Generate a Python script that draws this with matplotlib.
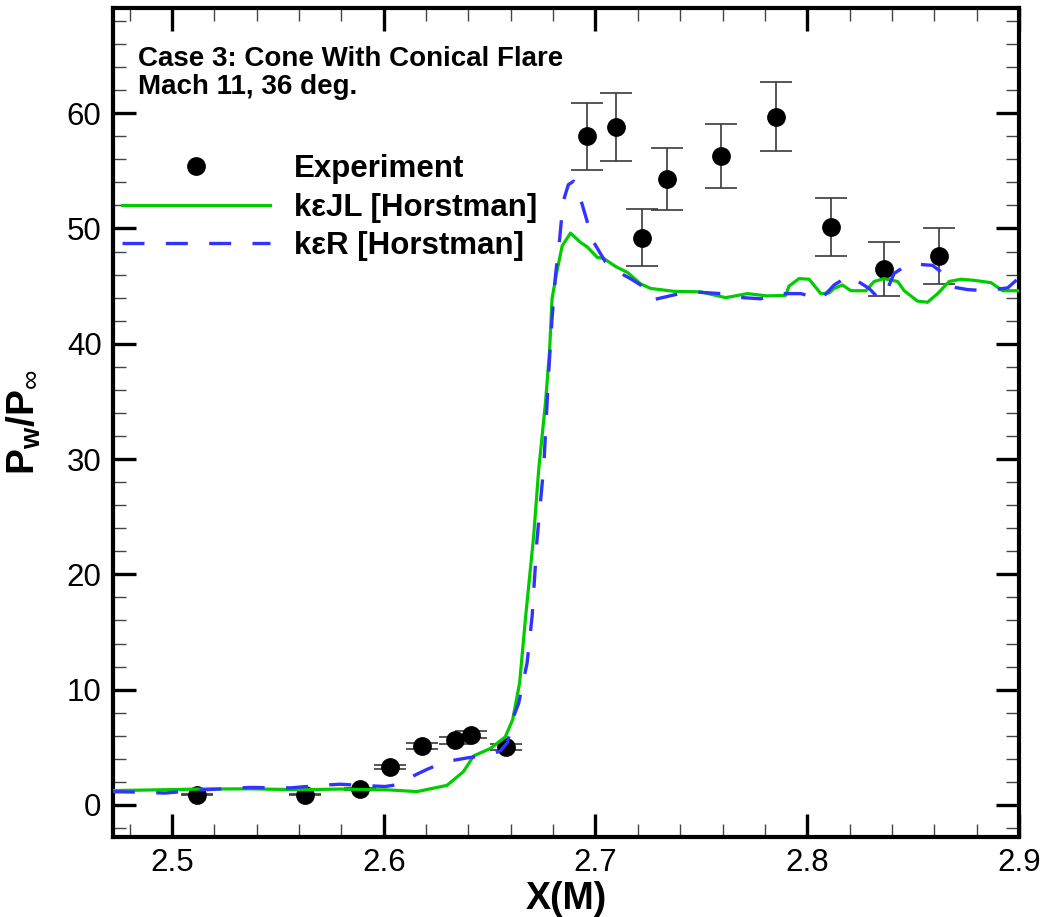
import matplotlib
matplotlib.use("Agg")
import matplotlib.pyplot as plt
from matplotlib.ticker import MultipleLocator

plt.rcParams['font.family'] = ['Liberation Sans', 'DejaVu Sans']
plt.rcParams['mathtext.fontset'] = 'custom'
plt.rcParams['mathtext.rm'] = 'Liberation Sans'
plt.rcParams['mathtext.bf'] = 'Liberation Sans:bold'

# Experimental wall pressure (with 5% uncertainty bars)
exp_x = [2.5117, 2.5626, 2.5889, 2.6031, 2.6181, 2.6339, 2.6412, 2.6578,
         2.6961, 2.7099, 2.7219, 2.7340, 2.7592, 2.7852, 2.8110, 2.8362, 2.8622]
exp_p = [0.87, 0.87, 1.4, 3.3, 5.1, 5.6, 6.1, 5.0,
         58.0, 58.8, 49.2, 54.3, 56.3, 59.7, 50.1, 46.5, 47.6]
exp_err = [0.04, 0.04, 0.07, 0.17, 0.26, 0.28, 0.30, 0.25,
           2.9, 2.95, 2.45, 2.7, 2.8, 3.0, 2.5, 2.35, 2.4]

# k-epsilon JL model
kejl_x = [2.4721, 2.4896, 2.5132, 2.5369, 2.5605, 2.5794, 2.6031, 2.6157,
          2.6299, 2.6377, 2.6425, 2.6504, 2.6574, 2.6609, 2.6642, 2.6669,
          2.6708, 2.6732, 2.6764, 2.6783, 2.6795, 2.6816, 2.6843, 2.6882,
          2.6929, 2.6961, 2.7008, 2.7039, 2.7095, 2.7150, 2.7213, 2.7260,
          2.7370, 2.7496, 2.7615, 2.7717, 2.7812, 2.7898, 2.7914, 2.7961,
          2.8009, 2.8064, 2.8103, 2.8127, 2.8166, 2.8206, 2.8277, 2.8316,
          2.8363, 2.8427, 2.8458, 2.8521, 2.8568, 2.8616, 2.8670, 2.8726,
          2.8789, 2.8868, 2.8923, 2.9005]
kejl_p = [1.25, 1.3, 1.38, 1.4, 1.32, 1.38, 1.3, 1.16,
          1.7, 2.9, 4.26, 4.9, 5.9, 7.4, 10.6, 16.1,
          23.3, 29.1, 34.9, 39.3, 43.9, 46.1, 48.5, 49.6,
          48.8, 48.4, 47.5, 47.4, 46.7, 46.2, 45.2, 44.8,
          44.55, 44.5, 44.0, 44.35, 44.15, 44.2, 45.0, 45.65,
          45.6, 44.35, 44.4, 44.8, 45.1, 44.6, 44.6, 45.4,
          45.65, 45.4, 44.6, 43.7, 43.6, 44.35, 45.4, 45.6,
          45.5, 45.3, 44.6, 44.6]

# k-epsilon R model
ker_x = [2.4721, 2.4825, 2.4967, 2.5132, 2.5369, 2.5558, 2.5700, 2.5794,
         2.5889, 2.6007, 2.6078, 2.6149, 2.6206, 2.6291, 2.6400, 2.6504,
         2.6551, 2.6584, 2.6614, 2.6637, 2.6677, 2.6701, 2.6724, 2.6756,
         2.6779, 2.6795, 2.6811, 2.6831, 2.6847, 2.6872, 2.6897, 2.6929,
         2.6961, 2.6992, 2.7047, 2.7110, 2.7165, 2.7213, 2.7268, 2.7386,
         2.7465, 2.7591, 2.7654, 2.7780, 2.7859, 2.7970, 2.8064, 2.8127,
         2.8198, 2.8292, 2.8332, 2.8362, 2.8410, 2.8481, 2.8592, 2.8655,
         2.8694, 2.8757, 2.8844, 2.8947, 2.9005]
ker_p = [1.15, 1.12, 1.03, 1.3, 1.52, 1.48, 1.7, 1.8,
         1.7, 1.6, 1.8, 2.6, 3.1, 3.75, 4.1, 4.35,
         4.7, 5.4, 7.7, 8.8, 12.3, 16.4, 23.0, 29.4,
         37.5, 42.2, 45.9, 49.1, 52.3, 53.8, 54.1, 52.6,
         50.6, 48.8, 47.1, 46.2, 45.65, 45.1, 43.8, 44.3,
         44.5, 44.35, 44.05, 43.9, 44.35, 44.35, 43.85, 45.1,
         45.9, 44.8, 44.05, 44.0, 46.1, 46.95, 46.8, 45.9,
         44.9, 44.7, 44.6, 44.85, 45.8]

fig = plt.figure(figsize=(10.45, 9.17), dpi=100)
ax = fig.add_axes([0.1078, 0.0876, 0.8673, 0.9034])

ax.errorbar(exp_x, exp_p, yerr=exp_err, fmt='none', ecolor='#3a3a3a',
            elinewidth=1.2, capsize=11.2, capthick=1.2, zorder=2)
ax.plot(exp_x, exp_p, 'o', color='black', markersize=12.5, zorder=3,
        label='Experiment')
ax.plot(kejl_x, kejl_p, '-', color='#00cc00', lw=2.3, zorder=4,
        label='k\u03b5JL [Horstman]')
ax.plot(ker_x, ker_p, color='#3333ff', lw=2.4, ls=(0, (6.6, 6.4)), zorder=5,
        label='k\u03b5R [Horstman]')

ax.set_xlim(2.472, 2.9)
ax.set_ylim(-2.75, 69.1)
ax.xaxis.set_major_locator(MultipleLocator(0.1))
ax.xaxis.set_minor_locator(MultipleLocator(0.02))
ax.yaxis.set_major_locator(MultipleLocator(10))
ax.yaxis.set_minor_locator(MultipleLocator(2))

for s in ax.spines.values():
    s.set_linewidth(3)
ax.tick_params(which='both', direction='in', top=True, right=True)
ax.tick_params(which='major', length=16.5, width=2.4, labelsize=22.5, pad=8)
ax.tick_params(which='minor', length=9.4, width=1.0, color='#444444')

ax.set_xlabel('X(M)', fontsize=27, fontweight='bold', labelpad=2)
ax.set_ylabel(r'$\mathbf{P_w/P}_{\infty}$', fontsize=28)
ax.yaxis.set_label_coords(-0.077, 0.5)

ax.text(0.0279, 0.9307, 'Case 3: Cone With Conical Flare', transform=ax.transAxes,
        fontsize=20, fontweight='bold', va='baseline', ha='left')
ax.text(0.0279, 0.8967, 'Mach 11, 36 deg.', transform=ax.transAxes,
        fontsize=20, fontweight='bold', va='baseline', ha='left')

leg = ax.legend(loc='upper left', bbox_to_anchor=(0.0099, 0.8236), frameon=False,
                borderpad=0, borderaxespad=0, handlelength=4.74,
                handletextpad=0.77, labelspacing=0.26, numpoints=1,
                prop={'size': 22.5, 'weight': 'bold'})

fig.savefig('out.png', dpi=100)
